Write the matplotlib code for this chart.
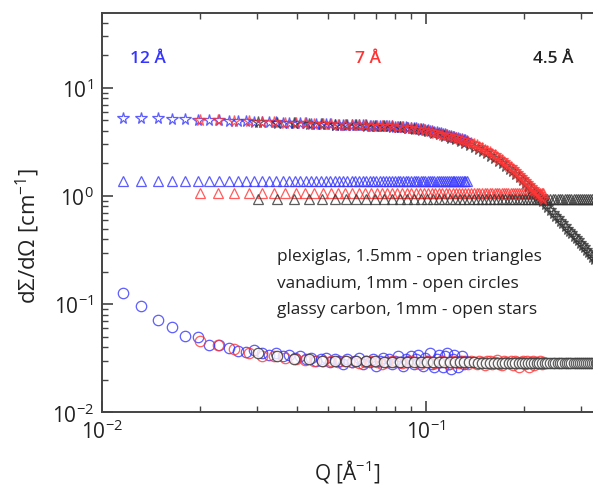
import matplotlib.pyplot as plt

plt.rcParams['font.family'] = ['Open Sans', 'DejaVu Sans']
plt.rcParams['mathtext.fontset'] = 'custom'
plt.rcParams['mathtext.rm'] = 'Open Sans'
plt.rcParams['mathtext.it'] = 'Open Sans:italic'

# Q grids for the three wavelengths [1/A]
q_12 = [0.0116, 0.0132, 0.0149, 0.0165, 0.0181, 0.0198, 0.0214, 0.0230, 0.0246, 0.0263,
        0.0279, 0.0295, 0.0312, 0.0328, 0.0344, 0.0361, 0.0377, 0.0393, 0.0409, 0.0426,
        0.0442, 0.0458, 0.0475, 0.0491, 0.0507, 0.0524, 0.0540, 0.0556, 0.0572, 0.0589,
        0.0605, 0.0621, 0.0638, 0.0654, 0.0670, 0.0687, 0.0703, 0.0719, 0.0735, 0.0752,
        0.0768, 0.0784, 0.0801, 0.0817, 0.0833, 0.0850, 0.0866, 0.0882, 0.0898, 0.0915,
        0.0931, 0.0947, 0.0964, 0.0980, 0.0996, 0.1013, 0.1029, 0.1045, 0.1061, 0.1078,
        0.1094, 0.1110, 0.1127, 0.1143, 0.1159, 0.1176, 0.1192, 0.1208, 0.1224, 0.1241,
        0.1257, 0.1273, 0.1290, 0.1306, 0.1322, 0.1339]
q_7 = [0.0200, 0.0228, 0.0256, 0.0284, 0.0312, 0.0340, 0.0368, 0.0396, 0.0424, 0.0452,
       0.0480, 0.0508, 0.0536, 0.0564, 0.0592, 0.0620, 0.0648, 0.0676, 0.0704, 0.0732,
       0.0760, 0.0788, 0.0816, 0.0844, 0.0872, 0.0900, 0.0928, 0.0956, 0.0984, 0.1012,
       0.1040, 0.1068, 0.1096, 0.1124, 0.1152, 0.1180, 0.1208, 0.1236, 0.1264, 0.1292,
       0.1320, 0.1348, 0.1376, 0.1404, 0.1432, 0.1460, 0.1488, 0.1516, 0.1544, 0.1572,
       0.1600, 0.1628, 0.1656, 0.1684, 0.1712, 0.1740, 0.1768, 0.1796, 0.1824, 0.1852,
       0.1880, 0.1908, 0.1936, 0.1964, 0.1992, 0.2020, 0.2048, 0.2076, 0.2104, 0.2132,
       0.2160, 0.2188, 0.2216, 0.2244, 0.2272, 0.2300]
q_45 = [0.0302, 0.0346, 0.0390, 0.0434, 0.0478, 0.0522, 0.0566, 0.0610, 0.0654, 0.0698,
        0.0742, 0.0786, 0.0830, 0.0874, 0.0918, 0.0962, 0.1006, 0.1050, 0.1094, 0.1138,
        0.1182, 0.1226, 0.1270, 0.1314, 0.1358, 0.1402, 0.1446, 0.1490, 0.1534, 0.1578,
        0.1622, 0.1666, 0.1710, 0.1754, 0.1798, 0.1842, 0.1886, 0.1930, 0.1974, 0.2018,
        0.2062, 0.2106, 0.2150, 0.2194, 0.2238, 0.2282, 0.2326, 0.2370, 0.2414, 0.2458,
        0.2502, 0.2546, 0.2590, 0.2634, 0.2678, 0.2722, 0.2766, 0.2810, 0.2854, 0.2898,
        0.2942, 0.2986, 0.3030, 0.3074, 0.3118, 0.3162, 0.3206, 0.3250, 0.3294, 0.3338,
        0.3382]

# plexiglas 1.5mm (triangles)
plexi_12 = [1.38, 1.38, 1.38, 1.38, 1.38, 1.38, 1.38, 1.38, 1.38, 1.38,
            1.38, 1.38, 1.38, 1.38, 1.38, 1.38, 1.38, 1.38, 1.38, 1.38,
            1.38, 1.38, 1.38, 1.38, 1.38, 1.38, 1.38, 1.38, 1.38, 1.38,
            1.38, 1.38, 1.38, 1.38, 1.38, 1.38, 1.38, 1.38, 1.38, 1.38,
            1.38, 1.38, 1.38, 1.38, 1.38, 1.38, 1.38, 1.38, 1.38, 1.38,
            1.38, 1.38, 1.38, 1.38, 1.38, 1.38, 1.38, 1.38, 1.38, 1.38,
            1.38, 1.38, 1.38, 1.38, 1.38, 1.38, 1.38, 1.38, 1.38, 1.38,
            1.38, 1.38, 1.38, 1.38, 1.38, 1.38]
plexi_7 = [1.06, 1.06, 1.06, 1.06, 1.06, 1.06, 1.06, 1.06, 1.06, 1.06,
           1.06, 1.06, 1.06, 1.06, 1.06, 1.06, 1.06, 1.06, 1.06, 1.06,
           1.06, 1.06, 1.06, 1.06, 1.06, 1.06, 1.06, 1.06, 1.06, 1.06,
           1.06, 1.06, 1.06, 1.06, 1.06, 1.06, 1.06, 1.06, 1.06, 1.06,
           1.06, 1.06, 1.06, 1.06, 1.06, 1.06, 1.06, 1.06, 1.06, 1.06,
           1.06, 1.06, 1.06, 1.06, 1.06, 1.06, 1.06, 1.06, 1.06, 1.06,
           1.06, 1.06, 1.06, 1.06, 1.06, 1.06, 1.06, 1.06, 1.06, 1.06,
           1.06, 1.06, 1.06, 1.06, 1.06, 1.06]
plexi_45 = [0.93, 0.93, 0.93, 0.93, 0.93, 0.93, 0.93, 0.93, 0.93, 0.93,
            0.93, 0.93, 0.93, 0.93, 0.93, 0.93, 0.93, 0.93, 0.93, 0.93,
            0.93, 0.93, 0.93, 0.93, 0.93, 0.93, 0.93, 0.93, 0.93, 0.93,
            0.93, 0.93, 0.93, 0.93, 0.93, 0.93, 0.93, 0.93, 0.93, 0.93,
            0.93, 0.93, 0.93, 0.93, 0.93, 0.93, 0.93, 0.93, 0.93, 0.93,
            0.93, 0.93, 0.93, 0.93, 0.93, 0.93, 0.93, 0.93, 0.93, 0.93,
            0.93, 0.93, 0.93, 0.93, 0.93, 0.93, 0.93, 0.93, 0.93, 0.93,
            0.93]

# vanadium 1mm (circles)
vana_12 = [0.127, 0.096, 0.072, 0.062, 0.051, 0.050, 0.0415, 0.042, 0.039, 0.0365,
           0.036, 0.038, 0.035, 0.034, 0.035, 0.033, 0.034, 0.032, 0.033, 0.031,
           0.032, 0.030, 0.031, 0.032, 0.029, 0.031, 0.030, 0.028, 0.031, 0.029,
           0.030, 0.032, 0.028, 0.030, 0.029, 0.031, 0.027, 0.030, 0.032, 0.029,
           0.031, 0.028, 0.030, 0.033, 0.029, 0.027, 0.031, 0.030, 0.033, 0.028,
           0.031, 0.034, 0.029, 0.027, 0.032, 0.030, 0.035, 0.028, 0.026, 0.031,
           0.034, 0.029, 0.026, 0.033, 0.035, 0.028, 0.025, 0.031, 0.034, 0.029,
           0.026, 0.030, 0.033, 0.028, 0.030, 0.029]
vana_7 = [0.0455, 0.0415, 0.0388, 0.035, 0.0335, 0.033, 0.032, 0.031, 0.0305, 0.030,
          0.030, 0.0295, 0.029, 0.0295, 0.029, 0.0285, 0.029, 0.0295, 0.029, 0.028,
          0.029, 0.0295, 0.029, 0.0285, 0.029, 0.0295, 0.029, 0.028, 0.029, 0.0295,
          0.029, 0.0285, 0.029, 0.030, 0.029, 0.028, 0.0295, 0.029, 0.0285, 0.030,
          0.029, 0.028, 0.0295, 0.029, 0.028, 0.030, 0.029, 0.0275, 0.0295, 0.030,
          0.028, 0.029, 0.0305, 0.028, 0.0275, 0.030, 0.029, 0.0285, 0.0295, 0.0275,
          0.030, 0.029, 0.0265, 0.029, 0.030, 0.028, 0.0295, 0.0265, 0.029, 0.030,
          0.0275, 0.029, 0.0285, 0.030, 0.028, 0.029]
vana_45 = [0.035, 0.0335, 0.031, 0.031, 0.030, 0.030, 0.030, 0.0298, 0.0296, 0.0295,
           0.0294, 0.0293, 0.0292, 0.0292, 0.0291, 0.029, 0.029, 0.029, 0.029, 0.029,
           0.029, 0.0289, 0.0289, 0.0289, 0.0289, 0.0289, 0.0288, 0.0288, 0.0288, 0.0288,
           0.0288, 0.0288, 0.0288, 0.0287, 0.0287, 0.0287, 0.0287, 0.0287, 0.0287, 0.0287,
           0.0286, 0.0286, 0.0286, 0.0286, 0.0286, 0.0286, 0.0286, 0.0286, 0.0285, 0.0285,
           0.0285, 0.0285, 0.0285, 0.0285, 0.0285, 0.0285, 0.0285, 0.0285, 0.0285, 0.0284,
           0.0284, 0.0284, 0.0284, 0.0284, 0.0284, 0.0284, 0.0284, 0.0284, 0.0284, 0.0284,
           0.0284]

# glassy carbon 1mm (stars)
carbon_12 = [5.30, 5.26, 5.22, 5.17, 5.12, 5.07, 5.03, 5.00, 4.97, 4.93,
             4.90, 4.87, 4.84, 4.81, 4.79, 4.77, 4.74, 4.72, 4.70, 4.68,
             4.66, 4.64, 4.62, 4.61, 4.59, 4.58, 4.56, 4.55, 4.54, 4.53,
             4.52, 4.51, 4.50, 4.49, 4.47, 4.46, 4.45, 4.44, 4.43, 4.42,
             4.40, 4.39, 4.38, 4.36, 4.35, 4.33, 4.31, 4.29, 4.27, 4.24,
             4.21, 4.18, 4.15, 4.12, 4.08, 4.04, 4.00, 3.96, 3.92, 3.88,
             3.84, 3.80, 3.76, 3.71, 3.67, 3.62, 3.58, 3.54, 3.50, 3.46,
             3.42, 3.38, 3.34, 3.30, 3.26, 3.22]
carbon_7 = [5.08, 5.02, 4.96, 4.90, 4.85, 4.80, 4.75, 4.72, 4.68, 4.65,
            4.62, 4.59, 4.57, 4.55, 4.53, 4.51, 4.49, 4.47, 4.45, 4.43,
            4.41, 4.39, 4.36, 4.33, 4.29, 4.25, 4.20, 4.14, 4.08, 4.01,
            3.94, 3.86, 3.78, 3.70, 3.63, 3.56, 3.50, 3.44, 3.38, 3.31,
            3.24, 3.17, 3.09, 3.01, 2.93, 2.85, 2.77, 2.69, 2.61, 2.53,
            2.45, 2.37, 2.29, 2.21, 2.13, 2.05, 1.98, 1.91, 1.84, 1.77,
            1.70, 1.63, 1.57, 1.50, 1.44, 1.38, 1.33, 1.27, 1.22, 1.17,
            1.12, 1.08, 1.04, 1.00, 0.97, 0.94]
carbon_45 = [4.80, 4.74, 4.68, 4.63, 4.59, 4.55, 4.52, 4.49, 4.46, 4.43,
             4.40, 4.36, 4.31, 4.25, 4.17, 4.08, 3.97, 3.85, 3.72, 3.59,
             3.46, 3.34, 3.22, 3.10, 2.97, 2.85, 2.72, 2.60, 2.48, 2.36,
             2.24, 2.12, 2.01, 1.90, 1.79, 1.69, 1.59, 1.49, 1.40, 1.31,
             1.23, 1.15, 1.08, 1.01, 0.95, 0.89, 0.84, 0.79, 0.74, 0.70,
             0.66, 0.62, 0.59, 0.56, 0.53, 0.50, 0.475, 0.45, 0.43, 0.41,
             0.39, 0.37, 0.35, 0.335, 0.32, 0.305, 0.29, 0.275, 0.26, 0.25,
             0.24]

wavelengths = ['12 Å', '7 Å', '4.5 Å']
notes = ['plexiglas, 1.5mm - open triangles',
         'vanadium, 1mm - open circles',
         'glassy carbon, 1mm - open stars']

blue = '#3535ff'
red = '#ff3535'
black = '#333333'


def draw(ax, q, y, marker, color, ms, face='none', z=2):
    ax.plot(q, y, ls='none', marker=marker, ms=ms, mfc=face, mec=color,
            mew=0.9, alpha=0.8, zorder=z)


fig = plt.figure(figsize=(5.93, 4.89), dpi=100)
ax = fig.add_axes([0.172, 0.1548, 0.828, 0.8166])

# triangles
draw(ax, q_12, plexi_12, '^', blue, 7)
draw(ax, q_7, plexi_7, '^', red, 7)
draw(ax, q_45, plexi_45, '^', black, 7)
# circles
draw(ax, q_12, vana_12, 'o', blue, 7.5)
draw(ax, q_7, vana_7, 'o', red, 7.5, z=3)
draw(ax, q_45, vana_45, 'o', black, 7.5, face='white', z=4)
# stars
draw(ax, q_12, carbon_12, '*', blue, 8.5)
draw(ax, q_45, carbon_45, '*', black, 8.5, z=3)
draw(ax, q_7, carbon_7, '*', red, 8.5, z=4)

ax.set_xscale('log')
ax.set_yscale('log')
ax.set_xlim(0.01, 0.3276)
ax.set_ylim(0.01, 49.2)

for s in ['left', 'top', 'bottom']:
    ax.spines[s].set_linewidth(1.4)
    ax.spines[s].set_color('#444444')
ax.spines['right'].set_visible(False)
ax.tick_params(which='both', direction='in', top=True, right=False,
               color='#444444', labelsize=15, labelcolor='#222222')
ax.tick_params(which='major', length=8, width=1.2)
ax.tick_params(which='minor', length=4, width=1.0)
ax.tick_params(axis='y', pad=6)
ax.tick_params(axis='x', pad=5)

ax.set_xlabel('Q [Å$^{-1}$]', fontsize=15, color='#222222', labelpad=10)
ax.set_ylabel('d\u03a3/d\u03a9 [cm$^{-1}$]', fontsize=16, color='#222222')
ax.yaxis.set_label_coords(-0.122, 0.444)

for (x, t), c in zip(zip([0.0122, 0.0604, 0.2138], wavelengths), [blue, red, '#222222']):
    ax.text(x, 17.5, t, color=c, fontsize=12.5, fontweight='semibold')

for y, t in zip([0.2555, 0.1437, 0.0820], notes):
    ax.text(0.0347, y, t, fontsize=12.4, color='#222222')

fig.savefig('out.png', dpi=100)
